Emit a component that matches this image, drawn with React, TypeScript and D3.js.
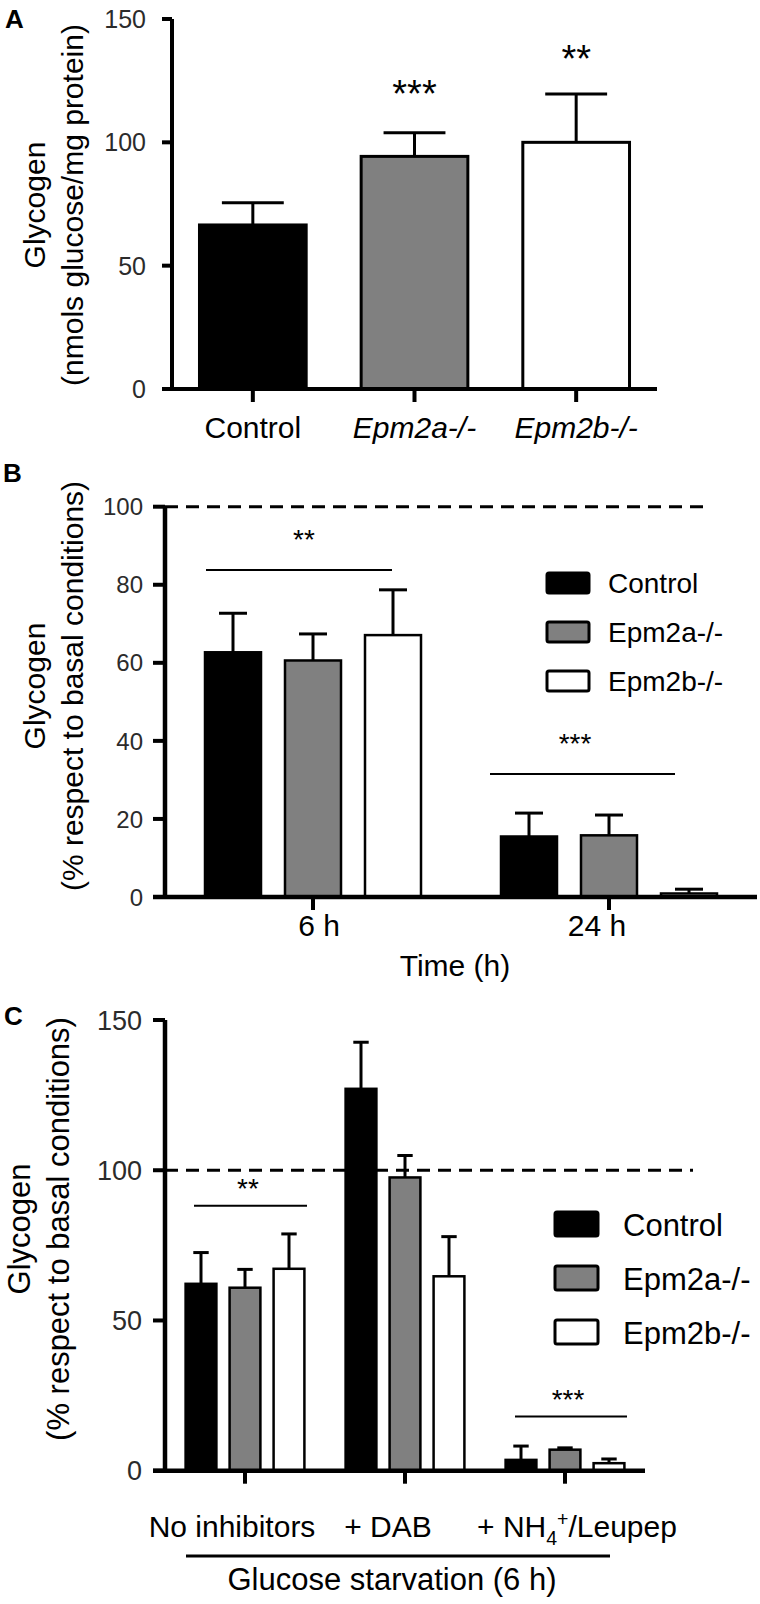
import React from "react";
import * as d3 from "d3";

const FONT = "'Liberation Sans', Arial, Helvetica, sans-serif";

// Shared series
const seriesNames = ["Control", "Epm2a-/-", "Epm2b-/-"];
const seriesFills = ["#000000", "#808080", "#ffffff"];

// Panel A
const aCategories = ["Control", "Epm2a-/-", "Epm2b-/-"];
const aMeans = [66.5, 94.3, 100.0];
const aErrors = [9.0, 9.6, 19.6];
const aSignif = ["", "***", "**"];
const aTicks = [0, 50, 100, 150];

// Panel B
const bGroups = ["6 h", "24 h"];
const bControl = [62.7, 15.5];
const bControlErr = [10.0, 6.0];
const bEpm2a = [60.6, 15.8];
const bEpm2aErr = [6.8, 5.2];
const bEpm2b = [67.1, 0.9];
const bEpm2bErr = [11.6, 1.1];
const bTicks = [0, 20, 40, 60, 80, 100];
const bSigText = ["**", "***"];
const bSigLevel = [83.8, 31.5];

// Panel C
const cGroups = ["No inhibitors", "+ DAB", "+ NH4+/Leupep"];
const cControl = [62.2, 127.1, 3.6];
const cControlErr = [10.4, 15.5, 4.6];
const cEpm2a = [60.9, 97.6, 7.0];
const cEpm2aErr = [6.1, 7.3, 0.6];
const cEpm2b = [67.2, 64.7, 2.5];
const cEpm2bErr = [11.6, 13.2, 1.4];
const cTicks = [0, 50, 100, 150];
const cSigText = ["**", "", "***"];
const cSigLevel = [88.2, 0, 18.0];

const TICK_FILL = "#2b2b2b";

function ErrorBar({ x, yTop, yBase, cap }: { x: number; yTop: number; yBase: number; cap: number }) {
  return (
    <g stroke="#000" strokeWidth={3} fill="none">
      <line x1={x} x2={x} y1={yBase} y2={yTop} />
      <line x1={x - cap / 2} x2={x + cap / 2} y1={yTop} y2={yTop} />
    </g>
  );
}

function GroupLabel({ label, x, y, size }: { label: string; x: number; y: number; size: number }) {
  if (label.includes("NH4+")) {
    return (
      <text x={x} y={y} fontSize={size} textAnchor="middle" fontFamily={FONT}>
        <tspan>+ NH</tspan>
        <tspan fontSize={size * 0.65} dy={8}>4</tspan>
        <tspan fontSize={size * 0.65} dy={-19}>+</tspan>
        <tspan dy={11}>/Leupep</tspan>
      </text>
    );
  }
  return (
    <text x={x} y={y} fontSize={size} textAnchor="middle" fontFamily={FONT}>
      {label}
    </text>
  );
}

function PanelA() {
  const x = d3.scaleBand<string>().domain(aCategories).range([172, 657]).paddingInner(0.34).paddingOuter(0.17);
  const y = d3.scaleLinear().domain([0, 150]).range([389, 19]);
  const bw = x.bandwidth();
  return (
    <g>
      <text x={5} y={28} fontSize={26} fontWeight="bold" fontFamily={FONT}>A</text>
      <text transform={`translate(45,205) rotate(-90)`} textAnchor="middle" fontSize={30} fontFamily={FONT}>Glycogen</text>
      <text transform={`translate(82.5,205) rotate(-90)`} textAnchor="middle" fontSize={30} fontFamily={FONT}>(nmols glucose/mg protein)</text>
      {aCategories.map((c, i) => {
        const x0 = x(c)!;
        const yTop = y(aMeans[i] + aErrors[i]);
        return (
          <g key={c}>
            <ErrorBar x={x0 + bw / 2} yTop={yTop} yBase={y(aMeans[i])} cap={bw * 0.58} />
            <rect x={x0} y={y(aMeans[i])} width={bw} height={y(0) - y(aMeans[i])}
              fill={seriesFills[i]} stroke="#000" strokeWidth={3} />
            {aSignif[i] && (
              <text x={x0 + bw / 2} y={yTop - (aSignif[i].length === 3 ? 26 : 22)} fontSize={38} textAnchor="middle" fontFamily={FONT}>{aSignif[i]}</text>
            )}
          </g>
        );
      })}
      {/* axes */}
      <line x1={172} x2={172} y1={y(150)} y2={y(0) + 2} stroke="#000" strokeWidth={4} />
      <line x1={162} x2={657} y1={y(0)} y2={y(0)} stroke="#000" strokeWidth={4} />
      {aTicks.map((t) => (
        <g key={t}>
          <line x1={162} x2={172} y1={y(t)} y2={y(t)} stroke="#000" strokeWidth={4} />
          <text x={146} y={y(t)} dy="0.36em" textAnchor="end" fontSize={25} fill={TICK_FILL} fontFamily={FONT}>{t}</text>
        </g>
      ))}
      {aCategories.map((c) => (
        <g key={c}>
          <line x1={x(c)! + bw / 2} x2={x(c)! + bw / 2} y1={y(0)} y2={y(0) + 13} stroke="#000" strokeWidth={4} />
          <text x={x(c)! + bw / 2} y={438} textAnchor="middle" fontSize={30} fontFamily={FONT}
            fontStyle={c === "Control" ? "normal" : "italic"}>{c}</text>
        </g>
      ))}
    </g>
  );
}

function Legend({ x, y0, step, w, h, size, tx }: { x: number; y0: number; step: number; w: number; h: number; size: number; tx: number }) {
  return (
    <g>
      {seriesNames.map((s, i) => (
        <g key={s}>
          <rect x={x} y={y0 + i * step - h / 2} width={w} height={h} rx={2} fill={seriesFills[i]} stroke="#000" strokeWidth={3} />
          <text x={tx} y={y0 + i * step + h / 2} fontSize={size} fontFamily={FONT}>{s}</text>
        </g>
      ))}
    </g>
  );
}

function PanelB() {
  const x0 = d3.scaleBand<string>().domain(bGroups).range([165, 757]).padding(0);
  const x1 = d3.scaleBand<string>().domain(seriesNames).range([-120, 120]).paddingInner(0.3).paddingOuter(0.15);
  const y = d3.scaleLinear().domain([0, 100]).range([897, 506.7]);
  const bw = x1.bandwidth();
  const vals = [bControl, bEpm2a, bEpm2b];
  const errs = [bControlErr, bEpm2aErr, bEpm2bErr];
  const sigOffsets = [[-107, 79], [-119, 66]];
  const sigTextDx = [-9, -34];
  const labelDx = [6, -12];
  return (
    <g>
      <text x={3} y={482} fontSize={26} fontWeight="bold" fontFamily={FONT}>B</text>
      <text transform={`translate(45,686) rotate(-90)`} textAnchor="middle" fontSize={30} fontFamily={FONT}>Glycogen</text>
      <text transform={`translate(82.5,686) rotate(-90)`} textAnchor="middle" fontSize={30} fontFamily={FONT}>(% respect to basal conditions)</text>
      <line x1={165} x2={711} y1={y(100)} y2={y(100)} stroke="#000" strokeWidth={3} strokeDasharray="13 8" />
      {bGroups.map((g, gi) => {
        const cx = x0(g)! + x0.bandwidth() / 2;
        return (
          <g key={g}>
            {seriesNames.map((s, si) => {
              const bx = cx + x1(s)!;
              const v = vals[si][gi];
              return (
                <g key={s}>
                  <ErrorBar x={bx + bw / 2} yTop={y(v + errs[si][gi])} yBase={y(v)} cap={bw * 0.5} />
                  <rect x={bx} y={y(v)} width={bw} height={y(0) - y(v)} fill={seriesFills[si]} stroke="#000" strokeWidth={2.5} />
                </g>
              );
            })}
            <line x1={cx + sigOffsets[gi][0]} x2={cx + sigOffsets[gi][1]} y1={y(bSigLevel[gi])} y2={y(bSigLevel[gi])} stroke="#000" strokeWidth={2} />
            <text x={cx + sigTextDx[gi]} y={y(bSigLevel[gi]) - 21} fontSize={28} textAnchor="middle" fontFamily={FONT}>{bSigText[gi]}</text>
            <line x1={cx} x2={cx} y1={y(0)} y2={y(0) + 13} stroke="#000" strokeWidth={4} />
            <text x={cx + labelDx[gi]} y={936} textAnchor="middle" fontSize={30} fontFamily={FONT}>{g}</text>
          </g>
        );
      })}
      <line x1={165} x2={165} y1={y(100)} y2={y(0) + 2} stroke="#000" strokeWidth={4.5} />
      <line x1={153} x2={757} y1={y(0)} y2={y(0)} stroke="#000" strokeWidth={4.5} />
      {bTicks.map((t) => (
        <g key={t}>
          <line x1={153} x2={165} y1={y(t)} y2={y(t)} stroke="#000" strokeWidth={4} />
          <text x={143} y={y(t)} dy="0.36em" textAnchor="end" fontSize={24} fill={TICK_FILL} fontFamily={FONT}>{t}</text>
        </g>
      ))}
      <text x={455} y={976} textAnchor="middle" fontSize={30} fontFamily={FONT}>Time (h)</text>
      <Legend x={547} y0={583} step={49} w={42} h={20} size={28} tx={608} />
    </g>
  );
}

function PanelC() {
  const x0 = d3.scaleBand<string>().domain(cGroups).range([165, 645]).padding(0);
  const x1 = d3.scaleBand<string>().domain(seriesNames).range([-66, 66]).paddingInner(0.3).paddingOuter(0.15);
  const y = d3.scaleLinear().domain([0, 150]).range([1470.7, 1020]);
  const bw = x1.bandwidth();
  const vals = [cControl, cEpm2a, cEpm2b];
  const errs = [cControlErr, cEpm2aErr, cEpm2bErr];
  const sigOffsets = [[-51, 62], [0, 0], [-50, 62]];
  const sigTextDx = [3, 0, 3];
  const labelDx = [-13, -17, 12];
  return (
    <g>
      <text x={4} y={1025} fontSize={26} fontWeight="bold" fontFamily={FONT}>C</text>
      <text transform={`translate(30,1229) rotate(-90)`} textAnchor="middle" fontSize={31} fontFamily={FONT}>Glycogen</text>
      <text transform={`translate(68.5,1229) rotate(-90)`} textAnchor="middle" fontSize={31} fontFamily={FONT}>(% respect to basal conditions)</text>
      <line x1={165} x2={693} y1={y(100)} y2={y(100)} stroke="#000" strokeWidth={3} strokeDasharray="13 8" />
      {cGroups.map((g, gi) => {
        const cx = x0(g)! + x0.bandwidth() / 2;
        return (
          <g key={g}>
            {seriesNames.map((s, si) => {
              const bx = cx + x1(s)!;
              const v = vals[si][gi];
              return (
                <g key={s}>
                  <ErrorBar x={bx + bw / 2} yTop={y(v + errs[si][gi])} yBase={y(v)} cap={bw * 0.5} />
                  <rect x={bx} y={y(v)} width={bw} height={y(0) - y(v)} fill={seriesFills[si]} stroke="#000" strokeWidth={2.5} />
                </g>
              );
            })}
            {cSigText[gi] && (
              <g>
                <line x1={cx + sigOffsets[gi][0]} x2={cx + sigOffsets[gi][1]} y1={y(cSigLevel[gi])} y2={y(cSigLevel[gi])} stroke="#000" strokeWidth={2} />
                <text x={cx + sigTextDx[gi]} y={y(cSigLevel[gi]) - 8} fontSize={28} textAnchor="middle" fontFamily={FONT}>{cSigText[gi]}</text>
              </g>
            )}
            <line x1={cx} x2={cx} y1={y(0)} y2={y(0) + 13} stroke="#000" strokeWidth={4} />
            <GroupLabel label={g} x={cx + labelDx[gi]} y={1537} size={30} />
          </g>
        );
      })}
      <line x1={165} x2={165} y1={y(150)} y2={y(0) + 2} stroke="#000" strokeWidth={4.5} />
      <line x1={153} x2={645} y1={y(0)} y2={y(0)} stroke="#000" strokeWidth={4.5} />
      {cTicks.map((t) => (
        <g key={t}>
          <line x1={153} x2={165} y1={y(t)} y2={y(t)} stroke="#000" strokeWidth={4} />
          <text x={142} y={y(t)} dy="0.36em" textAnchor="end" fontSize={27} fill={TICK_FILL} fontFamily={FONT}>{t}</text>
        </g>
      ))}
      <line x1={186} x2={610} y1={1556} y2={1556} stroke="#000" strokeWidth={3} />
      <text x={392} y={1590} textAnchor="middle" fontSize={31} fontFamily={FONT}>Glucose starvation (6 h)</text>
      <Legend x={555} y0={1224} step={54} w={43} h={24} size={31} tx={623} />
    </g>
  );
}

export default function App() {
  return (
    <svg width={760} height={1604} viewBox="0 0 760 1604"
      style={{ position: "absolute", left: 0, top: 0, display: "block", background: "#fff" }}>
      <rect x={0} y={0} width={760} height={1604} fill="#fff" />
      <PanelA />
      <PanelB />
      <PanelC />
    </svg>
  );
}
